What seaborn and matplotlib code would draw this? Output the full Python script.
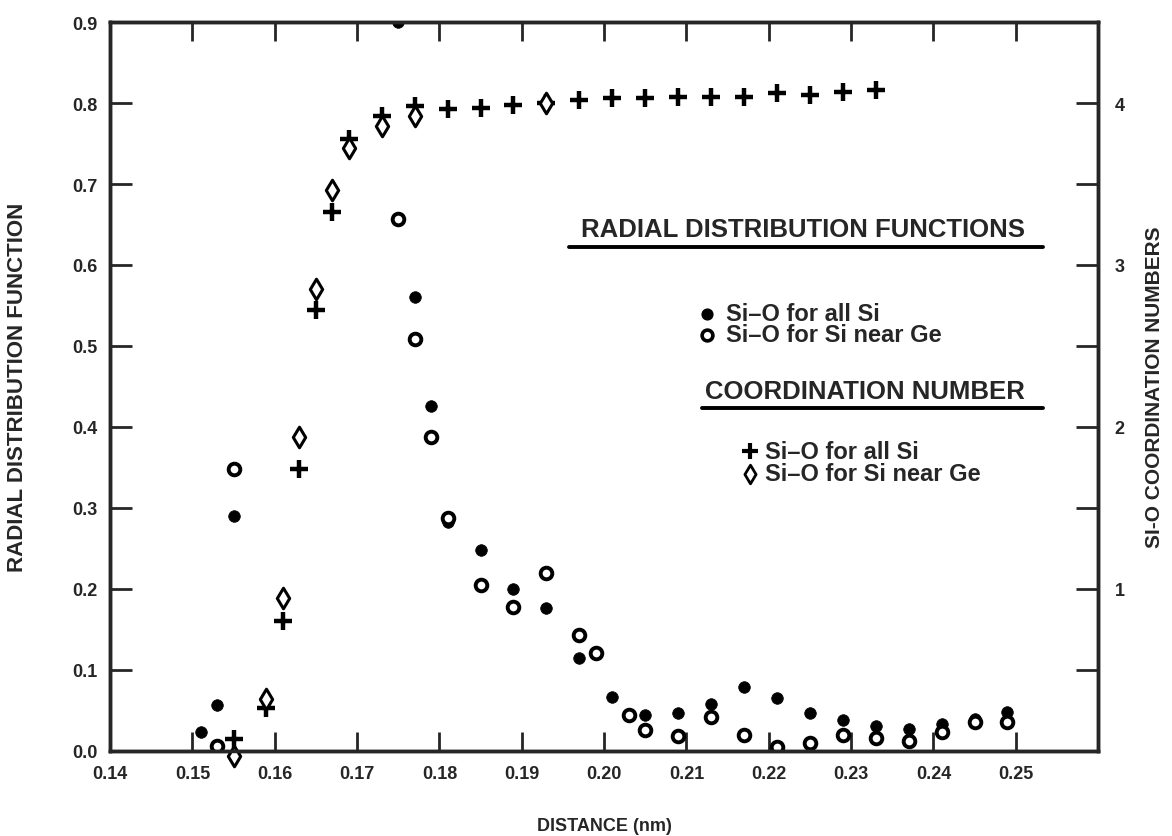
import matplotlib.pyplot as plt
import seaborn as sns

# Radial distribution function, Si-O for all Si (filled circles)
dist_all = [0.151, 0.153, 0.155, 0.175, 0.177, 0.179, 0.181, 0.185, 0.189, 0.193,
            0.197, 0.201, 0.205, 0.209, 0.213, 0.217, 0.221, 0.225, 0.229, 0.233,
            0.237, 0.241, 0.245, 0.249]
rdf_all = [0.023, 0.057, 0.290, 0.900, 0.560, 0.426, 0.283, 0.248, 0.200, 0.176,
           0.115, 0.067, 0.044, 0.047, 0.058, 0.079, 0.066, 0.047, 0.038, 0.031,
           0.027, 0.033, 0.040, 0.048]

# Radial distribution function, Si-O for Si near Ge (open circles)
dist_ge = [0.153, 0.155, 0.175, 0.177, 0.179, 0.181, 0.185, 0.189, 0.193, 0.197,
           0.199, 0.203, 0.205, 0.209, 0.213, 0.217, 0.221, 0.225, 0.229, 0.233,
           0.237, 0.241, 0.245, 0.249]
rdf_ge = [0.006, 0.348, 0.657, 0.509, 0.388, 0.288, 0.205, 0.178, 0.220, 0.143,
          0.121, 0.045, 0.026, 0.018, 0.042, 0.020, 0.005, 0.010, 0.020, 0.016,
          0.012, 0.023, 0.036, 0.036]

# Coordination number, Si-O for all Si (plus signs)
cn_dist_all = [0.155, 0.159, 0.161, 0.163, 0.165, 0.167, 0.169, 0.173, 0.177, 0.181,
               0.185, 0.189, 0.193, 0.197, 0.201, 0.205, 0.209, 0.213, 0.217, 0.221,
               0.225, 0.229, 0.233]
cn_all = [0.075, 0.265, 0.80, 1.74, 2.72, 3.33, 3.78, 3.92, 3.98, 3.96,
          3.97, 3.99, 4.00, 4.02, 4.03, 4.03, 4.04, 4.04, 4.04, 4.06,
          4.05, 4.07, 4.08]

# Coordination number, Si-O for Si near Ge (diamonds)
cn_dist_ge = [0.155, 0.159, 0.161, 0.163, 0.165, 0.167, 0.169, 0.173, 0.177, 0.193]
cn_ge = [-0.03, 0.32, 0.944, 1.94, 2.85, 3.46, 3.72, 3.86, 3.92, 4.00]

x_ticks = [0.14, 0.15, 0.16, 0.17, 0.18, 0.19, 0.20, 0.21, 0.22, 0.23, 0.24, 0.25]
x_labels = ["0.14", "0.15", "0.16", "0.17", "0.18", "0.19", "0.20", "0.21",
            "0.22", "0.23", "0.24", "0.25"]
y_ticks = [0.0, 0.1, 0.2, 0.3, 0.4, 0.5, 0.6, 0.7, 0.8, 0.9]
y_labels = ["0.0", "0.1", "0.2", "0.3", "0.4", "0.5", "0.6", "0.7", "0.8", "0.9"]
cn_ticks = [1, 2, 3, 4]
cn_minor = [0.5, 1.5, 2.5, 3.5]

sns.set_style("ticks")
plt.rcParams["font.family"] = ["Liberation Sans", "DejaVu Sans"]
plt.rcParams["font.weight"] = "bold"
plt.rcParams["axes.linewidth"] = 2.5

fig = plt.figure(figsize=(11.72, 8.37), dpi=100)
ax = fig.add_axes([0.0939, 0.1016, 0.843, 0.8709])
ax2 = ax.twinx()

sns.scatterplot(x=dist_all, y=rdf_all, ax=ax, marker="o", s=70,
                color="black", edgecolor="black", linewidth=0.5)
sns.scatterplot(x=dist_ge, y=rdf_ge, ax=ax, marker="o", s=70,
                color="white", edgecolor="black", linewidth=2.8)
sns.scatterplot(x=cn_dist_all, y=cn_all, ax=ax2, marker="+", s=150,
                color="black", linewidth=3.2, clip_on=False)
sns.scatterplot(x=cn_dist_ge, y=cn_ge, ax=ax2, marker="d", s=110,
                color="white", edgecolor="black", linewidth=2.2, clip_on=False)

ax.set_xlim(0.14, 0.26)
ax.set_ylim(0.0, 0.9)
ax2.set_ylim(0.0, 4.5)

ax.set_xticks(x_ticks)
ax.set_xticklabels(x_labels)
ax.set_yticks(y_ticks)
ax.set_yticklabels(y_labels)
ax2.set_yticks(cn_ticks)
ax2.set_yticks(cn_minor, minor=True)
ax2.set_yticklabels([str(t) for t in cn_ticks])

ax.tick_params(axis="x", direction="in", length=14, width=2, top=True,
               labelsize=13, pad=10)
ax.tick_params(axis="y", direction="in", length=16, width=2, labelsize=13, pad=9)
ax2.tick_params(axis="y", which="both", direction="in", length=16, width=2,
                labelsize=13, pad=12)
for a in (ax, ax2):
    for sp in a.spines.values():
        sp.set_visible(True)
        sp.set_linewidth(2.5)

ax.set_xlabel("DISTANCE (nm)", fontsize=13, fontweight="bold")
ax.xaxis.set_label_coords(0.5, -0.09)
ax.set_ylabel("RADIAL DISTRIBUTION FUNCTION", fontsize=16, fontweight="bold")
ax.yaxis.set_label_coords(-0.083, 0.5)
ax2.set_ylabel("SI-O COORDINATION NUMBERS", fontsize=15, fontweight="bold")
ax2.yaxis.set_label_coords(1.048, 0.5)

# Legend block drawn inside the axes
tr = ax.transAxes
ax.text(0.926, 0.716, "RADIAL DISTRIBUTION FUNCTIONS", transform=tr, ha="right",
        va="center", fontsize=18.5, fontweight="bold")
ax.plot([0.465, 0.944], [0.691, 0.691], transform=tr, color="black", lw=2.8)
ax.scatter([0.604], [0.600], transform=tr, marker="o", s=60, color="black")
ax.text(0.623, 0.600, "Si–O for all Si", transform=tr, va="center",
        fontsize=17, fontweight="bold")
ax.scatter([0.604], [0.571], transform=tr, marker="o", s=60, facecolor="white",
           edgecolor="black", linewidth=2.6)
ax.text(0.623, 0.571, "Si–O for Si near Ge", transform=tr, va="center",
        fontsize=17, fontweight="bold")

ax.text(0.926, 0.494, "COORDINATION NUMBER", transform=tr, ha="right",
        va="center", fontsize=18.5, fontweight="bold")
ax.plot([0.599, 0.944], [0.471, 0.471], transform=tr, color="black", lw=2.8)
ax.scatter([0.648], [0.411], transform=tr, marker="+", s=120, color="black",
           linewidth=3)
ax.text(0.663, 0.411, "Si–O for all Si", transform=tr, va="center",
        fontsize=17, fontweight="bold")
ax.scatter([0.648], [0.380], transform=tr, marker="d", s=90, facecolor="white",
           edgecolor="black", linewidth=2)
ax.text(0.663, 0.380, "Si–O for Si near Ge", transform=tr, va="center",
        fontsize=17, fontweight="bold")

fig.savefig("out.png", dpi=100)
